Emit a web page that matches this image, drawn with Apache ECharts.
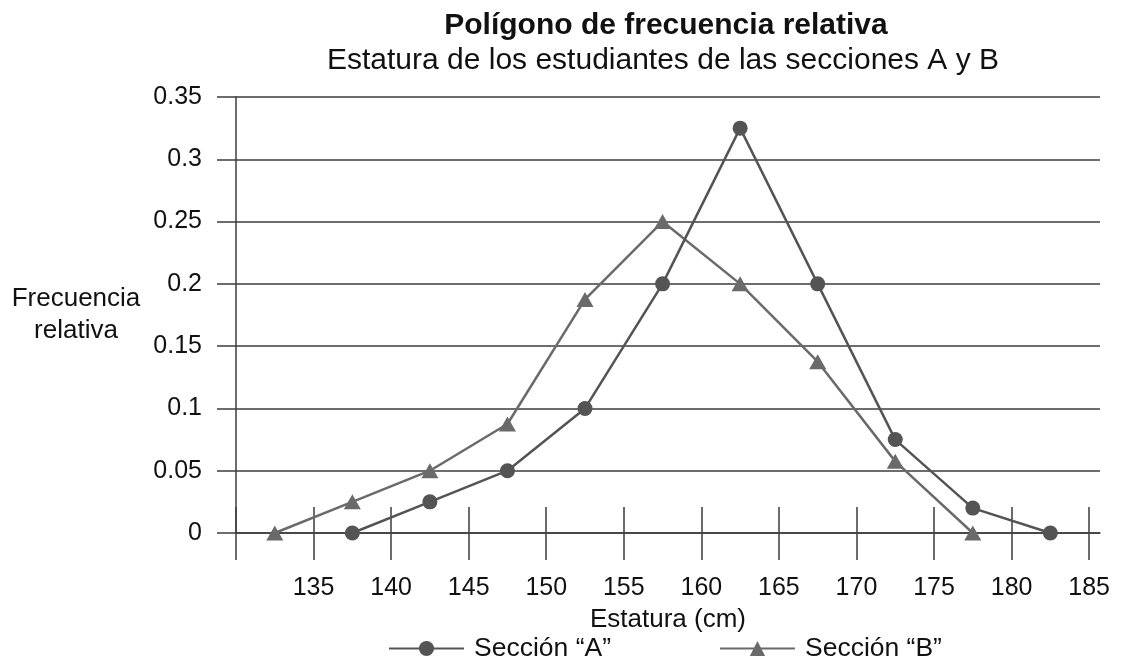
<!DOCTYPE html>
<html>
<head>
<meta charset="utf-8">
<script src="https://cdn.jsdelivr.net/npm/echarts@6/dist/echarts.min.js"></script>
<style>
  html, body { margin: 0; padding: 0; background: #fff; }
  #chart { width: 1125px; height: 663px; }
</style>
</head>
<body>
<div id="chart"></div>
<script>
// Class marks (cm) and relative frequencies for each section
const heightsA = [137.5, 142.5, 147.5, 152.5, 157.5, 162.5, 167.5, 172.5, 177.5, 182.5];
const freqA    = [0, 0.025, 0.05, 0.1, 0.2, 0.325, 0.2, 0.075, 0.02, 0];
const heightsB = [132.5, 137.5, 142.5, 147.5, 152.5, 157.5, 162.5, 167.5, 172.5, 177.5];
const freqB    = [0, 0.025, 0.05, 0.0875, 0.1875, 0.25, 0.2, 0.1375, 0.0575, 0];
const xTicks   = [130, 135, 140, 145, 150, 155, 160, 165, 170, 175, 180, 185];
const xLabels  = [135, 140, 145, 150, 155, 160, 165, 170, 175, 180, 185];
const seriesNames = ['Sección “A”', 'Sección “B”'];

const FONT = 'Liberation Sans, Arial, sans-serif';
const AXIS = '#3c3c3c';
const TEXT = '#111111';

const chart = echarts.init(document.getElementById('chart'), null, { renderer: 'canvas' });

// Both x axes share the same scale: one carries the labels and downward ticks,
// the other only the upward half of each tick so they cross the zero line.
const xCommon = {
  type: 'value',
  min: 130,
  max: 185.7,
  position: 'bottom',
  splitLine: { show: false }
};

chart.setOption({
  animation: false,
  backgroundColor: '#ffffff',
  title: [
    {
      text: 'Polígono de frecuencia relativa',
      left: 661, top: 6, textAlign: 'center',
      textStyle: { fontFamily: FONT, fontSize: 30, fontWeight: 'bold', color: TEXT }
    },
    {
      text: 'Estatura de los estudiantes de las secciones A y B',
      left: 658, top: 41, textAlign: 'center',
      textStyle: { fontFamily: FONT, fontSize: 30, fontWeight: 'normal', color: TEXT }
    }
  ],
  legend: {
    top: 630,
    left: 383,
    itemWidth: 75,
    itemHeight: 19,
    itemGap: 108,
    textStyle: { fontFamily: FONT, fontSize: 26.5, color: TEXT, padding: [0, 0, 0, 5] },
    data: seriesNames
  },
  grid: { left: 236, right: 25, top: 97, bottom: 130, containLabel: false },
  xAxis: [
    Object.assign({}, xCommon, {
      name: 'Estatura (cm)',
      nameLocation: 'middle',
      nameGap: 74,
      nameTextStyle: { fontFamily: FONT, fontSize: 26, color: TEXT },
      axisLine: { show: true, lineStyle: { color: AXIS, width: 1.5 } },
      axisTick: { show: true, length: 27, inside: false, customValues: xTicks, lineStyle: { color: AXIS, width: 1.5 } },
      axisLabel: { customValues: xLabels, margin: 43, fontFamily: FONT, fontSize: 25, color: TEXT }
    }),
    Object.assign({}, xCommon, {
      axisLine: { show: false },
      axisTick: { show: true, length: 26, inside: true, customValues: xTicks, lineStyle: { color: AXIS, width: 1.5 } },
      axisLabel: { show: false }
    })
  ],
  yAxis: {
    type: 'value',
    min: 0, max: 0.35, interval: 0.05,
    name: 'Frecuencia\nrelativa',
    nameLocation: 'middle',
    nameRotate: 0,
    nameGap: 160,
    nameTextStyle: { fontFamily: FONT, fontSize: 26, color: TEXT, lineHeight: 32, align: 'center', padding: [0, 0, 16, 0] },
    axisLine: { show: true, lineStyle: { color: AXIS, width: 1.5 } },
    axisTick: { show: true, length: 19, lineStyle: { color: AXIS, width: 1.5 } },
    axisLabel: { margin: 34, fontFamily: FONT, fontSize: 25, color: TEXT },
    splitLine: { show: true, lineStyle: { color: AXIS, width: 1.5 } }
  },
  series: [
    {
      name: seriesNames[0],
      type: 'line',
      xAxisIndex: 0,
      data: heightsA.map((h, i) => [h, freqA[i]]),
      symbol: 'circle',
      symbolSize: 15,
      lineStyle: { color: '#545454', width: 2.5 },
      itemStyle: { color: '#545454' },
      z: 3
    },
    {
      name: seriesNames[1],
      type: 'line',
      xAxisIndex: 0,
      data: heightsB.map((h, i) => [h, freqB[i]]),
      symbol: 'triangle',
      symbolSize: [17, 15],
      lineStyle: { color: '#6a6a6a', width: 2.5 },
      itemStyle: { color: '#6a6a6a' },
      z: 2
    }
  ]
});
</script>
</body>
</html>
